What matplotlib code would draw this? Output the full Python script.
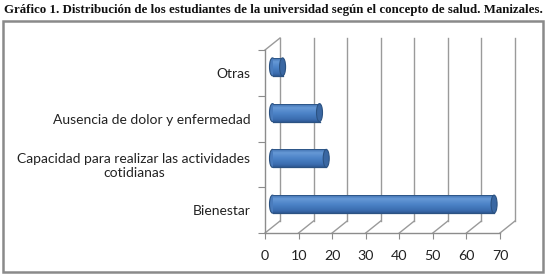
import numpy as np
import matplotlib
matplotlib.use("Agg")
import matplotlib.pyplot as plt
from matplotlib.patches import Rectangle, Ellipse

# datos
categorias = ["Bienestar",
              "Capacidad para realizar las actividades\ncotidianas",
              "Ausencia de dolor y enfermedad",
              "Otras"]
valores = [66, 16, 14, 3]
x_ticks = [0, 10, 20, 30, 40, 50, 60, 70]
titulo = ("Gráfico 1. Distribución de los estudiantes de la universidad "
          "según el concepto de salud. Manizales.")

W, H = 547, 276
fig = plt.figure(figsize=(W / 100, H / 100), dpi=100)
fig.patch.set_facecolor("white")

# marco del grafico
fig.add_artist(Rectangle((3 / W, 4 / H), 540 / W, 251 / H, transform=fig.transFigure,
                         fill=False, edgecolor="#8a8a8a", lw=1.8))
fig.text(4 / W, 1 - 10 / H, titulo, ha="left", va="center",
         fontsize=9.25, fontweight="bold", family="Liberation Serif", color="#111111")

# ejes (plano frontal)
ax = fig.add_axes([265 / W, 43 / H, 235 / W, 183 / H])
ax.set_xlim(0, 70)
ax.set_ylim(-0.5, 3.5)
ax.patch.set_alpha(0)
for s in ["top", "right"]:
    ax.spines[s].set_visible(False)
for s in ["left", "bottom"]:
    ax.spines[s].set_color("#8c8c8c")
    ax.spines[s].set_linewidth(1.0)

ax.set_xticks(x_ticks)
ax.set_xticklabels([str(t) for t in x_ticks])
ax.set_yticks(np.arange(-0.5, 4, 1))
ax.set_yticklabels([])
ax.set_yticks(range(len(categorias)), minor=True)
ax.set_yticklabels(categorias, minor=True, multialignment="center")
ax.tick_params(axis="x", length=4, color="#8c8c8c", pad=8, labelsize=10.3, labelcolor="#222222")
ax.tick_params(axis="y", which="major", length=5, color="#8c8c8c")
ax.tick_params(axis="y", which="minor", length=0, pad=10.5, labelsize=10, labelcolor="#222222")
for lab in ax.get_xticklabels() + ax.get_yticklabels(minor=True):
    lab.set_family(["Lato", "DejaVu Sans"])

# desplazamiento de profundidad (pseudo 3D)
px_x = ax.bbox.width / 70.0
px_y = ax.bbox.height / 4.0
dx = 15 / px_x
dy = 12 / px_y
grid_c = "#9a9a9a"

# pared del fondo y piso
for t in x_ticks:
    ax.plot([t + dx, t + dx], [-0.5 + dy, 3.5 + dy], color=grid_c, lw=1.0, clip_on=False, zorder=1)
    ax.plot([t, t + dx], [-0.5, -0.5 + dy], color=grid_c, lw=1.0, clip_on=False, zorder=1)
ax.plot([0, dx], [3.5, 3.5 + dy], color=grid_c, lw=1.0, clip_on=False, zorder=1)

# barras cilindricas
h = 18 / px_y
cap_w = 6 / px_x
stops = [0.0, 0.2, 0.5, 0.85, 1.0]
cols = np.array([[0x3f, 0x6f, 0xae], [0x66, 0x99, 0xd6], [0x4d, 0x84, 0xc8],
                 [0x3b, 0x6d, 0xb0], [0x2f, 0x5a, 0x94]]) / 255.0
g = np.linspace(0, 1, 64)
img = np.stack([np.interp(g, stops, cols[:, k]) for k in range(3)], axis=1)[:, None, :]
edge_c = "#2b5282"

for i, v in enumerate(valores):
    x0 = dx / 2
    yc = i + dy / 2
    ax.add_patch(Ellipse((x0, yc), cap_w, h, facecolor="#4a7cbd", edgecolor=edge_c,
                         lw=0.8, zorder=3, clip_on=False))
    body = Rectangle((x0, yc - h / 2), v, h, facecolor="#4f81bd", edgecolor="none",
                     zorder=3.5, clip_on=False)
    ax.add_patch(body)
    im = ax.imshow(img, extent=[x0, x0 + v, yc - h / 2, yc + h / 2], aspect="auto",
                   origin="upper", zorder=3.6, interpolation="bilinear")
    im.set_clip_path(body)
    ax.plot([x0, x0 + v], [yc + h / 2, yc + h / 2], color=edge_c, lw=0.6, zorder=3.7, clip_on=False)
    ax.plot([x0, x0 + v], [yc - h / 2, yc - h / 2], color=edge_c, lw=0.9, zorder=3.7, clip_on=False)
    ax.add_patch(Ellipse((x0 + v, yc), cap_w, h, facecolor="#3a67a2", edgecolor=edge_c,
                         lw=0.8, zorder=4, clip_on=False))

ax.set_xlim(0, 70)
ax.set_ylim(-0.5, 3.5)

fig.savefig("out.png", dpi=100, facecolor="white")
